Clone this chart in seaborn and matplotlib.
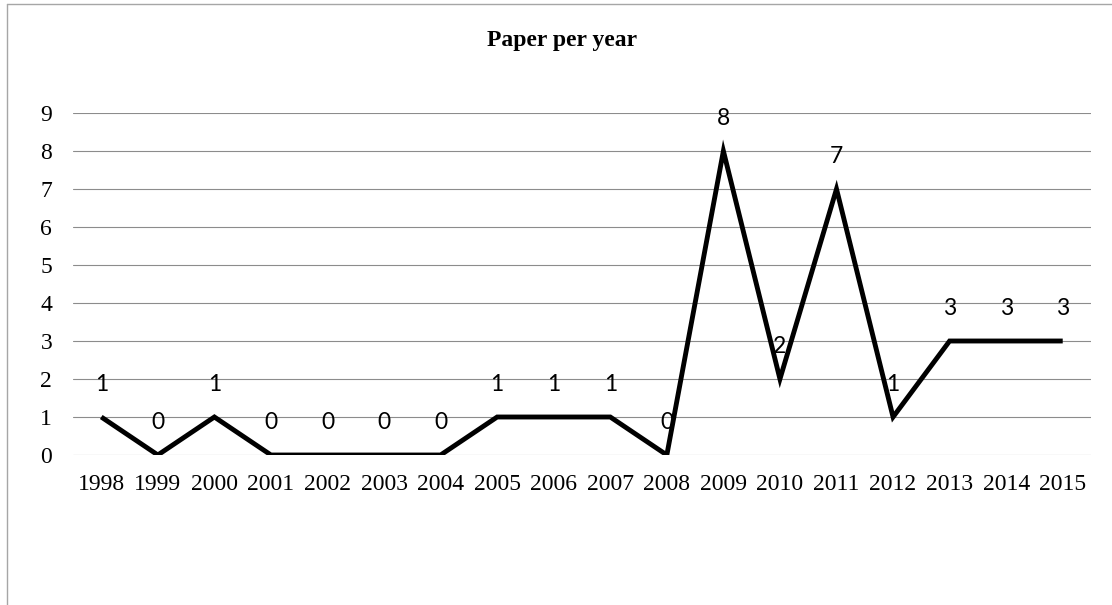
import matplotlib
matplotlib.use("Agg")
import matplotlib.pyplot as plt
from matplotlib.lines import Line2D
import pandas as pd
import seaborn as sns

# Publications counted per year
years = ["1998", "1999", "2000", "2001", "2002", "2003", "2004", "2005", "2006",
         "2007", "2008", "2009", "2010", "2011", "2012", "2013", "2014", "2015"]
papers = [1, 0, 1, 0, 0, 0, 0, 1, 1, 1, 0, 8, 2, 7, 1, 3, 3, 3]
y_ticks = [0, 1, 2, 3, 4, 5, 6, 7, 8, 9]
title = "Paper per year"

sns.set_theme(style="white")
serif = ["Liberation Serif", "DejaVu Serif"]
sans = ["Lato", "DejaVu Sans"]

df = pd.DataFrame({"year": years, "papers": papers})

W, H = 1112, 605
fig = plt.figure(figsize=(W / 100, H / 100), dpi=100)
fig.patch.set_facecolor("white")

left, right, bottom, top = 73, 1091, 455, 113
ax = fig.add_axes([left / W, (H - bottom) / H, (right - left) / W, (bottom - top) / H])
ax.set_facecolor("white")

# Horizontal gridlines, drawn under the series
for v in y_ticks:
    ax.axhline(v, color="#8c8c8c", lw=0.8, zorder=1)

sns.lineplot(data=df, x="year", y="papers", ax=ax, color="black", lw=3.5,
             sort=False, zorder=3)
for line in ax.lines[-1:]:
    line.set_solid_joinstyle("miter")
    line.set_solid_capstyle("butt")

# Value labels above each point
for yr, val in zip(years, papers):
    ax.annotate(str(val), xy=(yr, val), xytext=(0, 23.5), textcoords="offset points",
                ha="center", va="center", fontsize=16.5, family=sans, color="black",
                zorder=4)

ax.set_xlim(-0.5, len(years) - 0.5)
ax.set_ylim(0, 9)
ax.set_yticks(y_ticks)
ax.set_yticklabels([str(v) for v in y_ticks], family=serif, fontsize=17)
ax.set_xticks(range(len(years)))
ax.set_xticklabels(years, family=serif, fontsize=17)
ax.tick_params(axis="y", length=0, pad=15, colors="black")
ax.tick_params(axis="x", length=0, pad=14, colors="black")
ax.set_xlabel("")
ax.set_ylabel("")
for s in ax.spines.values():
    s.set_visible(False)

fig.text(562 / W, 1 - 46 / H, title, ha="center", va="baseline",
         fontsize=17, fontweight="bold", family=serif, color="black")

# Chart frame (left and top edges)
fig.add_artist(Line2D([7 / W, 7 / W], [0, 1 - 4 / H], transform=fig.transFigure,
                      color="#a6a6a6", lw=1.0))
fig.add_artist(Line2D([7 / W, 1], [1 - 4 / H, 1 - 4 / H], transform=fig.transFigure,
                      color="#a6a6a6", lw=1.0))

fig.savefig("out.png", dpi=100, facecolor="white")
